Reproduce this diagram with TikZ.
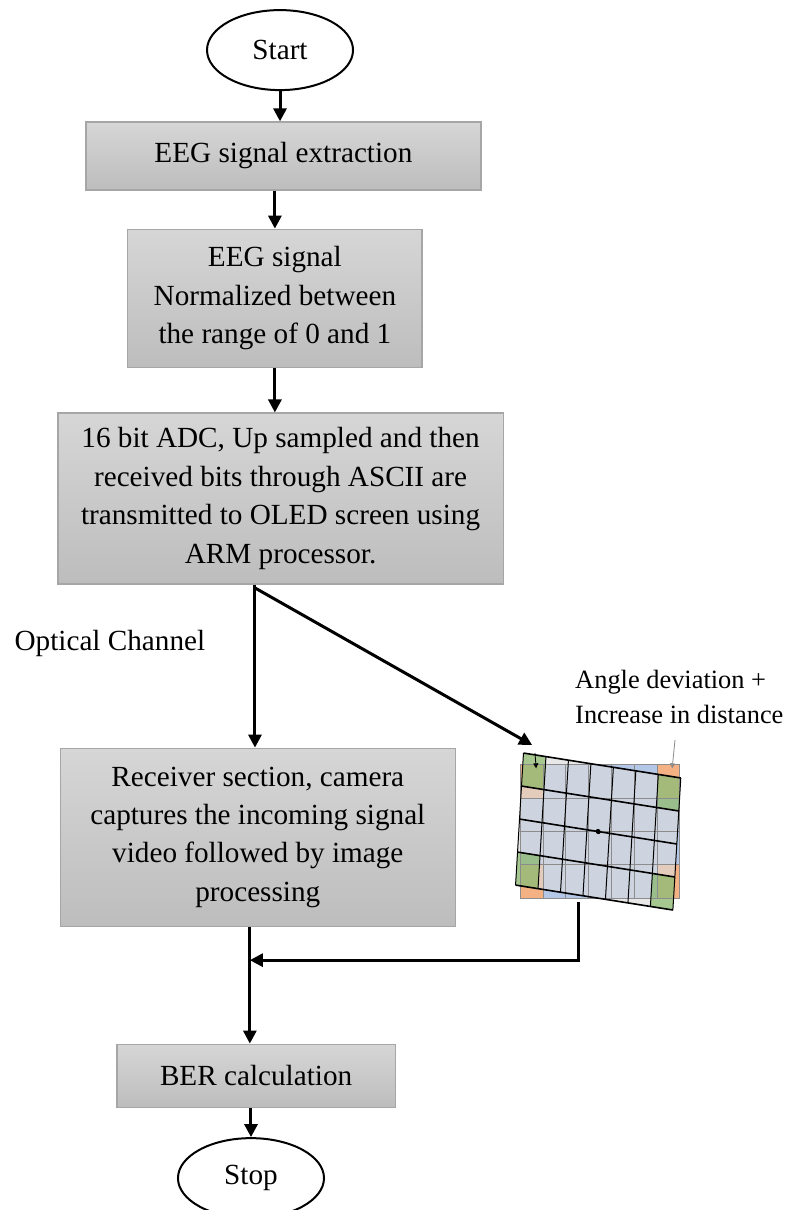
\documentclass[tikz,border=0pt]{standalone}
\usepackage{fontspec}
\setmainfont{Liberation Serif}
\usepackage{tikz}
\usetikzlibrary{arrows.meta,shapes.geometric}
\definecolor{boxtop}{HTML}{D6D6D6}
\definecolor{boxbot}{HTML}{BDBDBD}
\definecolor{boxedge}{HTML}{A6A6A6}
\definecolor{cellblue}{HTML}{B4C7E7}
\definecolor{cellgrey}{HTML}{DCDCDC}
\definecolor{cellorange}{HTML}{F4B183}
\definecolor{cellgreen}{HTML}{70AD47}
\definecolor{gridgrey}{HTML}{8C8C8C}

\begin{document}
\begin{tikzpicture}[
    process/.style={rectangle, draw=boxedge, line width=0.6pt, top color=boxtop, bottom color=boxbot, align=center, inner sep=0pt, font=\fontsize{14.6}{19.2}\selectfont},
    terminal/.style={ellipse, draw, line width=1pt, minimum width=73pt, minimum height=40pt, inner sep=0pt, font=\fontsize{14.6}{16}\selectfont},
    flow/.style={-{Triangle[width=6.5pt,length=6.5pt]}, line width=1.5pt},
    note/.style={font=\fontsize{13.2}{17.5}\selectfont, align=left, inner sep=0pt}
]
\useasboundingbox (0,0) rectangle (13.83,-21.26);

% ---- main column ----
\node[terminal] (start) at (4.92,-0.88) {Start};
\node[process, minimum width=197.5pt, minimum height=34pt] (eeg) at (4.98,-2.74) {EEG signal extraction};
\node[process, minimum width=147pt, minimum height=69pt] (norm) at (4.83,-5.24) {EEG signal\\Normalized between\\the range of 0 and 1};
\node[process, minimum width=222.5pt, minimum height=85.5pt] (adc) at (4.93,-8.76) {16 bit ADC, Up sampled and then\\received bits through ASCII are\\transmitted to OLED screen using\\ARM processor.};
\node[process, minimum width=197.5pt, minimum height=89pt] (rx) at (4.53,-14.71) {Receiver section, camera\\captures the incoming signal\\video followed by image\\processing};
\node[process, minimum width=139pt, minimum height=31.5pt] (ber) at (4.50,-18.90) {BER calculation};
\node[terminal] (stop) at (4.41,-20.70) {Stop};

\node[note, font=\fontsize{14.6}{17.5}\selectfont, anchor=west] (optical) at (0.25,-11.30) {Optical Channel};
\node[note, anchor=west] (angle) at (10.10,-12.25) {Angle deviation +\\Increase in distance};

\coordinate (split) at (4.48,-10.33);
\coordinate (tip) at (9.35,-13.09);
\coordinate (gbot) at (10.17,-15.85);
\coordinate (merge) at (4.39,-16.87);

% ---- distorted screen capture ----
\begin{scope}[shift={(9.14,-15.78)}]
  \fill[cellblue] (0,0) rectangle (2.81,2.34);
  \fill[cellorange] (0,0) rectangle (0.401,0.585);
  \fill[cellorange] (2.409,0) rectangle (2.81,0.585);
  \fill[cellorange] (0,1.755) rectangle (0.401,2.34);
  \fill[cellorange] (2.409,1.755) rectangle (2.81,2.34);
\end{scope}
\begin{scope}[shift={(10.51,-14.61)}, xslant=0.06, yslant=-0.157, shift={(-1.395,-1.16)}]
  \fill[cellgrey, opacity=0.65] (0,0) rectangle (2.79,2.32);
  \fill[cellgreen, opacity=0.55] (0,0) rectangle (0.399,0.58);
  \fill[cellgreen, opacity=0.55] (2.391,0) rectangle (2.79,0.58);
  \fill[cellgreen, opacity=0.55] (0,1.74) rectangle (0.399,2.32);
  \fill[cellgreen, opacity=0.55] (2.391,1.74) rectangle (2.79,2.32);
\end{scope}
\begin{scope}[shift={(9.14,-15.78)}, gridgrey, line width=0.5pt]
  \foreach \i in {0,...,7} \draw (\i*0.401,0) -- (\i*0.401,2.34);
  \foreach \j in {0,...,4} \draw (0,\j*0.585) -- (2.81,\j*0.585);
\end{scope}
\begin{scope}[shift={(10.51,-14.61)}, xslant=0.06, yslant=-0.157, shift={(-1.395,-1.16)}]
  \foreach \i in {0,...,7} \draw[line width=0.5pt] (\i*0.3986,0) -- (\i*0.3986,2.32);
  \foreach \j in {0,...,4} \draw[line width=0.8pt] (0,\j*0.58) -- (2.79,\j*0.58);
  \fill (1.395,1.16) circle (1.3pt);
\end{scope}
\draw[-{Triangle[width=2.5pt,length=2.5pt]}, line width=0.4pt] (9.40,-13.23) -- (9.42,-13.50);
\draw[-{Triangle[width=2.5pt,length=2.5pt]}, line width=0.4pt, gridgrey] (11.86,-13.00) -- (11.81,-13.50);

% ---- connectors ----
\draw[flow] (start.south) -- (start.south |- eeg.north);
\draw[flow] (eeg.south -| norm.north) -- (norm.north);
\draw[flow] (norm.south) -- (norm.south |- adc.north);
\draw[line width=1.5pt] (split |- adc.south) -- (split);
\draw[flow] (split) -- (split |- rx.north);
\draw[flow] (split) -- (tip);
\draw[flow] (gbot) |- (merge);
\draw[flow] (merge |- rx.south) -- (merge |- ber.north);
\draw[flow] (stop.north |- ber.south) -- (stop.north);
\end{tikzpicture}
\end{document}
